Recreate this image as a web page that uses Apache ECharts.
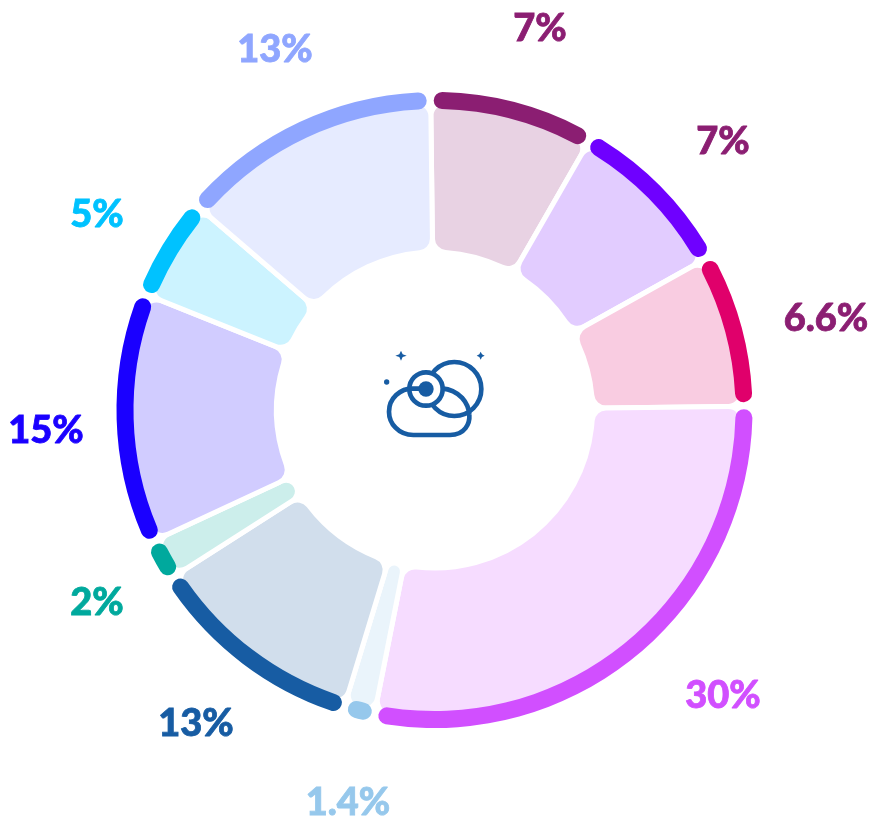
<!DOCTYPE html>
<html><head><meta charset="utf-8">
<style>html,body{margin:0;padding:0;background:#fff}#c{width:869px;height:818px}</style>
<script src="https://cdn.jsdelivr.net/npm/echarts@6/dist/echarts.min.js"></script>
</head><body><div id="c"></div>
<script>
const sliceShares = [8.5, 8.6, 7.9, 28.3, 1.6, 11.25, 2.1, 13, 5.25, 13.5];
const labelTexts = ['7%','7%','6.6%','30%','1.4%','13%','2%','15%','5%','13%'];
const ringColors = ['#8B1E72','#6F00FF','#E0006B','#D14FFF','#96C8EC','#175CA3','#00A99D','#1A00FF','#00C2FF','#8FA6FF'];
const paleColors = ['#E8D2E3','#E2CCFF','#F9CCE1','#F6DCFF','#EAF4FB','#D1DEEC','#CCEEEB','#D1CCFF','#CCF3FF','#E6EBFF'];
const labelColors = ['#8B1E72','#8B1E72','#8B1E72','#D14FFF','#96C8EC','#175CA3','#00A99D','#1A00FF','#00C2FF','#8FA6FF'];
const labelCentres = [[540,29],[723,142],[826,319],[723,696],[348,803],[196,724],[97,603],[46,431],[97,215],[275,50]];

echarts.graphic.registerShape('iconCloud', echarts.graphic.extendPath('M130 285 L240 285 C285 285 300 250 298 225 C296 190 270 150 215 145 M130 285 C85 285 57 250 57 215 C57 175 90 145 130 145 L168 147', {}));
echarts.graphic.registerShape('iconStars', echarts.graphic.extendPath('M93 32 L98 43 L110 47 L98 51 L93 62 L88 51 L76 47 L88 43 Z M332 35 L336 43 L344 47 L336 51 L332 59 L328 51 L320 47 L328 43 Z', {}));

const chart = echarts.init(document.getElementById('c'), null, {renderer:'canvas'});
const centre = [434.5, 410];
const iconColor = '#175CA3';
const stroke = {stroke: iconColor, lineWidth: 14, fill: null, lineCap:'round'};
chart.setOption({
  animation:false,
  series:[
    {type:'pie', silent:true, center:centre, radius:[158,308], startAngle:90.7, clockwise:true, avoidLabelOverlap:false,
     label:{show:false}, labelLine:{show:false},
     itemStyle:{borderColor:'#fff', borderWidth:5, borderRadius:14},
     data:sliceShares.map((v,i)=>({value:v, itemStyle:{color:paleColors[i]}}))},
    {type:'pie', silent:true, z:3, center:centre, radius:[301,318], startAngle:90.8, clockwise:true, padAngle:1.3, avoidLabelOverlap:false,
     itemStyle:{borderRadius:8.5},
     labelLine:{show:false},
     label:{show:true, position:'outside', fontFamily:'Lato', fontWeight:900, fontSize:38, textBorderWidth:0.8, formatter:p=>labelTexts[p.dataIndex]},
     labelLayout:p=>({x:labelCentres[p.dataIndex][0], y:labelCentres[p.dataIndex][1], align:'center', verticalAlign:'middle'}),
     data:sliceShares.map((v,i)=>({value:v, itemStyle:{color:ringColors[i]}, label:{color:labelColors[i], textBorderColor:labelColors[i]}}))}
  ],
  graphic:[{type:'group', x:370, y:340, scaleX:1/3, scaleY:1/3, z:10, children:[
    {type:'circle', shape:{cx:253,cy:147,r:81}, style:{...stroke}},
    {type:'iconCloud', shape:{}, style:{...stroke}},
    {type:'circle', shape:{cx:168,cy:147,r:50}, style:{stroke:iconColor,lineWidth:14,fill:'#fff'}},
    {type:'circle', shape:{cx:168,cy:147,r:23}, style:{fill:iconColor}},
    {type:'line', shape:{x1:125,y1:146,x2:168,y2:146}, style:{...stroke}},
    {type:'circle', shape:{cx:50,cy:126,r:8}, style:{fill:iconColor}},
    {type:'iconStars', shape:{}, style:{fill:iconColor}}
  ]}]
});
</script></body></html>
